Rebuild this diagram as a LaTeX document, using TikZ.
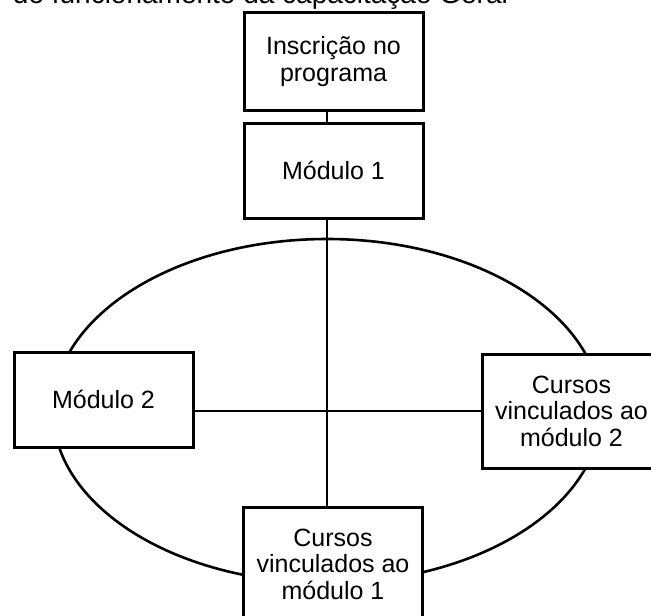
\documentclass[tikz,border=0pt]{standalone}
\usepackage{fontspec}
\setmainfont{Liberation Sans}
\begin{document}
\begin{tikzpicture}[x=0.5pt,y=-0.5pt,
    caixa/.style={draw,line width=1.5pt,fill=white,minimum width=89.5pt,align=center,inner sep=2pt,font=\fontsize{12.5}{13.2}\selectfont},
    linha/.style={line width=1.3pt}]
    \useasboundingbox (0,0) rectangle (651,615);
    \coordinate (c) at (327,411);
    \draw[linha] (c) ellipse [x radius=274, y radius=172];

    \node[anchor=base east,font=\fontsize{14}{16}\selectfont] (titulo) at (515,4) {do funcionamento da capacitação Geral};

    \node[caixa,minimum height=48.5pt] (insc) at (333.5,61.5) {Inscrição no\\programa};
    \node[caixa,minimum height=47.5pt] (mod1) at (333.5,170.5) {Módulo 1};
    \node[caixa,minimum height=47.5pt] (mod2) at (103.5,399.5) {Módulo 2};
    \node[caixa,minimum height=57pt] (cur2) at (571.5,411) {Cursos\\vinculados ao\\módulo 2};
    \node[caixa,minimum height=57pt] (cur1) at (333,564) {Cursos\\vinculados ao\\módulo 1};

    \draw[linha] (insc.south -| c) -- (mod1.north -| c);
    \draw[linha] (mod1.south -| c) -- (cur1.north -| c);
    \draw[linha] (mod2.east |- c) -- (cur2.west |- c);
\end{tikzpicture}
\end{document}
